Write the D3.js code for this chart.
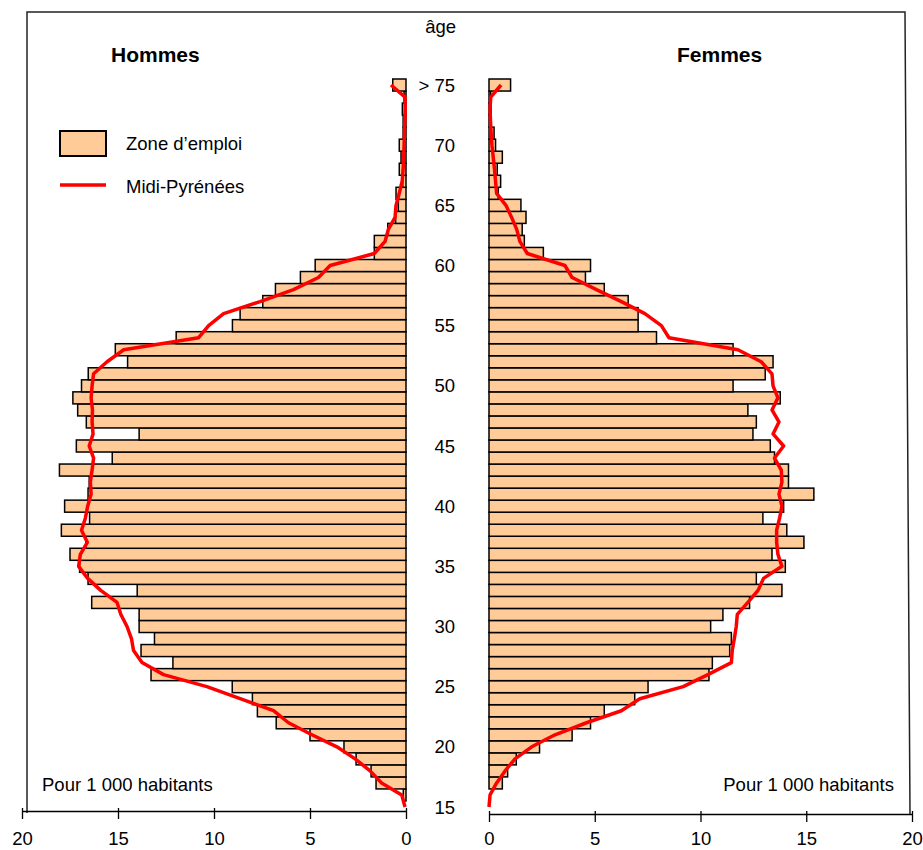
<!DOCTYPE html>
<html>
<head>
<meta charset="utf-8">
<script src="https://cdn.jsdelivr.net/npm/d3@7"></script>
<style>
  html, body { margin: 0; padding: 0; background: #fff; }
  svg { display: block; }
  text { font-family: "Liberation Sans", Arial, Helvetica, sans-serif; fill: #000; }
</style>
</head>
<body>
<svg id="chart" width="923" height="850"></svg>
<script>
// Age categories, from 15 to "> 75"
const ages = d3.range(15, 75).map(String).concat(["> 75"]);
const ageTickLabels = ["15", "20", "25", "30", "35", "40", "45", "50", "55", "60", "65", "70", "> 75"];
const valueTicks = [0, 5, 10, 15, 20];

// Hommes - Zone d'emploi (pour 1 000 habitants), ages 15 .. >75
const zoneHommes = [
  0, 0.14, 1.56, 1.82, 2.6, 3.23, 5.0, 6.76, 7.74, 8.0,
  9.05, 13.28, 12.14, 13.8, 13.1, 13.9, 13.9, 16.37, 14.0, 16.56,
  17.0, 17.5, 16.67, 17.95, 16.48, 17.78, 16.56, 16.5, 18.05, 15.3,
  17.17, 13.9, 16.65, 17.1, 17.35, 16.9, 16.55, 14.5, 15.14, 11.97,
  9.04, 8.64, 7.46, 6.8, 5.5, 4.73, 1.65, 1.65, 0.95, 0.54,
  0.4, 0.52, 0.17, 0.35, 0.26, 0.35, 0.15, 0.15, 0.19, 0.1,
  0.69
];
// Hommes - Midi-Pyrénées
const mpHommes = [
  0.05, 0.22, 1.27, 1.87, 2.65, 3.6, 4.9, 6.12, 6.9, 8.64,
  10.37, 12.63, 13.75, 14.19, 14.3, 14.53, 14.85, 15.05, 15.9, 16.58,
  17.05, 16.96, 16.6, 16.9, 16.7, 16.58, 16.4, 16.44, 16.35, 16.27,
  16.5, 16.3, 16.35, 16.33, 16.4, 16.35, 16.27, 15.57, 14.7, 10.8,
  10.28, 9.5, 7.6, 5.86, 4.56, 3.95, 1.65, 1.09, 0.92, 0.57,
  0.52, 0.35, 0.2, 0.15, 0.12, 0.1, 0.08, 0.06, 0.04, 0.05,
  0.78
];
// Femmes - Zone d'emploi
const zoneFemmes = [
  0, 0, 0.63, 0.88, 1.29, 2.39, 3.93, 4.8, 5.45, 6.89,
  7.52, 10.4, 10.56, 11.38, 11.46, 10.48, 11.06, 12.32, 13.85, 12.64,
  14.01, 13.38, 14.89, 14.08, 12.95, 13.93, 15.36, 14.16, 14.16, 13.5,
  13.3, 12.48, 12.64, 12.24, 13.77, 11.54, 13.06, 13.43, 11.54, 7.92,
  7.05, 7.05, 6.58, 5.45, 4.56, 4.8, 2.57, 1.67, 1.57, 1.75,
  1.51, 0.44, 0.55, 0.39, 0.63, 0.31, 0.24, 0.1, 0.1, 0.08,
  1.02
];
// Femmes - Midi-Pyrénées
const mpFemmes = [
  0, 0.05, 0.36, 0.76, 1.23, 2.02, 3.12, 4.61, 6.26, 7.13,
  9.18, 10.35, 11.46, 11.5, 11.6, 11.69, 11.74, 12.24, 12.72, 12.98,
  13.85, 13.66, 13.6, 13.6, 13.74, 13.85, 13.71, 13.85, 13.82, 13.5,
  13.93, 13.43, 13.71, 13.38, 13.66, 13.43, 13.38, 12.87, 11.77, 8.51,
  8.15, 7.37, 6.26, 5.08, 3.93, 3.59, 1.81, 1.46, 1.31, 1.07,
  0.8, 0.36, 0.31, 0.26, 0.2, 0.14, 0.1, 0.07, 0.05, 0.08,
  0.57
];

const svg = d3.select("#chart");
const FILL = "#FFCC99", RED = "#FF0000";
const FS = "18.5px";

const y = d3.scaleBand().domain(ages).range([813, 79]).padding(0);
const xL = d3.scaleLinear().domain([0, 20]).range([406, 22]);
const xR = d3.scaleLinear().domain([0, 20]).range([489, 912]);
const yc = a => y(a) + y.bandwidth() / 2;

// Frame
svg.append("path")
  .attr("d", "M27,813 L27,12 L905,12 L910,814")
  .attr("fill", "none").attr("stroke", "#222").attr("stroke-width", 1.5);

// Bars - Hommes
svg.append("g").selectAll("rect")
  .data(ages.map((a, i) => ({a, v: zoneHommes[i]})).filter(d => d.v > 0))
  .join("rect")
  .attr("x", d => xL(d.v)).attr("y", d => y(d.a))
  .attr("width", d => xL(0) - xL(d.v)).attr("height", y.bandwidth())
  .attr("fill", FILL).attr("stroke", "#000").attr("stroke-width", 1.5);

// Bars - Femmes
svg.append("g").selectAll("rect")
  .data(ages.map((a, i) => ({a, v: zoneFemmes[i]})).filter(d => d.v > 0))
  .join("rect")
  .attr("x", xR(0)).attr("y", d => y(d.a))
  .attr("width", d => xR(d.v) - xR(0)).attr("height", y.bandwidth())
  .attr("fill", FILL).attr("stroke", "#000").attr("stroke-width", 1.5);

// Lines - Midi-Pyrénées
const lineL = d3.line().x(d => xL(d.v)).y(d => yc(d.a));
const lineR = d3.line().x(d => xR(d.v)).y(d => yc(d.a));
svg.append("path")
  .attr("d", lineL(ages.map((a, i) => ({a, v: mpHommes[i]}))))
  .attr("fill", "none").attr("stroke", RED).attr("stroke-width", 3.5)
  .attr("stroke-linejoin", "round");
svg.append("path")
  .attr("d", lineR(ages.map((a, i) => ({a, v: mpFemmes[i]}))))
  .attr("fill", "none").attr("stroke", RED).attr("stroke-width", 3.5)
  .attr("stroke-linejoin", "round");

// Value axes
function styleAxis(g) {
  g.select(".domain").attr("stroke", "#000").attr("stroke-width", 1.3);
  g.selectAll(".tick line").attr("y1", -3).attr("y2", 8).attr("stroke", "#000").attr("stroke-width", 1.3);
  g.selectAll(".tick text").attr("y", 34).attr("dy", 0)
    .style("font-size", FS).style("font-family", "'Liberation Sans', Arial, sans-serif");
}
svg.append("g").attr("transform", "translate(0,811)")
  .call(d3.axisBottom(xL).tickValues(valueTicks).tickSizeOuter(0).tickFormat(d3.format("d")))
  .call(styleAxis);
svg.append("g").attr("transform", "translate(0,814)")
  .call(d3.axisBottom(xR).tickValues(valueTicks).tickSizeOuter(0).tickFormat(d3.format("d")))
  .call(g => { styleAxis(g); g.selectAll(".tick text").attr("y", 31); });

// Age labels
svg.append("g").selectAll("text")
  .data(ageTickLabels)
  .join("text")
  .attr("x", 455).attr("y", d => yc(d)).attr("dy", "0.36em")
  .attr("text-anchor", "end").style("font-size", FS)
  .text(d => d);
svg.append("text").attr("x", 456).attr("y", 33).attr("text-anchor", "end")
  .style("font-size", FS).text("âge");

// Titles
svg.append("text").attr("x", 111).attr("y", 62).style("font-size", "21px").style("font-weight", "bold").text("Hommes");
svg.append("text").attr("x", 677).attr("y", 62).style("font-size", "21px").style("font-weight", "bold").text("Femmes");

// Legend
svg.append("rect").attr("x", 60).attr("y", 131).attr("width", 46).attr("height", 25)
  .attr("fill", FILL).attr("stroke", "#000").attr("stroke-width", 2);
svg.append("text").attr("x", 126).attr("y", 150).style("font-size", FS).text("Zone d’emploi");
svg.append("line").attr("x1", 60).attr("x2", 106).attr("y1", 185).attr("y2", 185)
  .attr("stroke", RED).attr("stroke-width", 3.5);
svg.append("text").attr("x", 126).attr("y", 193).style("font-size", FS).text("Midi-Pyrénées");

// Notes
svg.append("text").attr("x", 42).attr("y", 791).style("font-size", FS).text("Pour 1 000 habitants");
svg.append("text").attr("x", 894).attr("y", 791).attr("text-anchor", "end").style("font-size", FS).text("Pour 1 000 habitants");
</script>
</body>
</html>
